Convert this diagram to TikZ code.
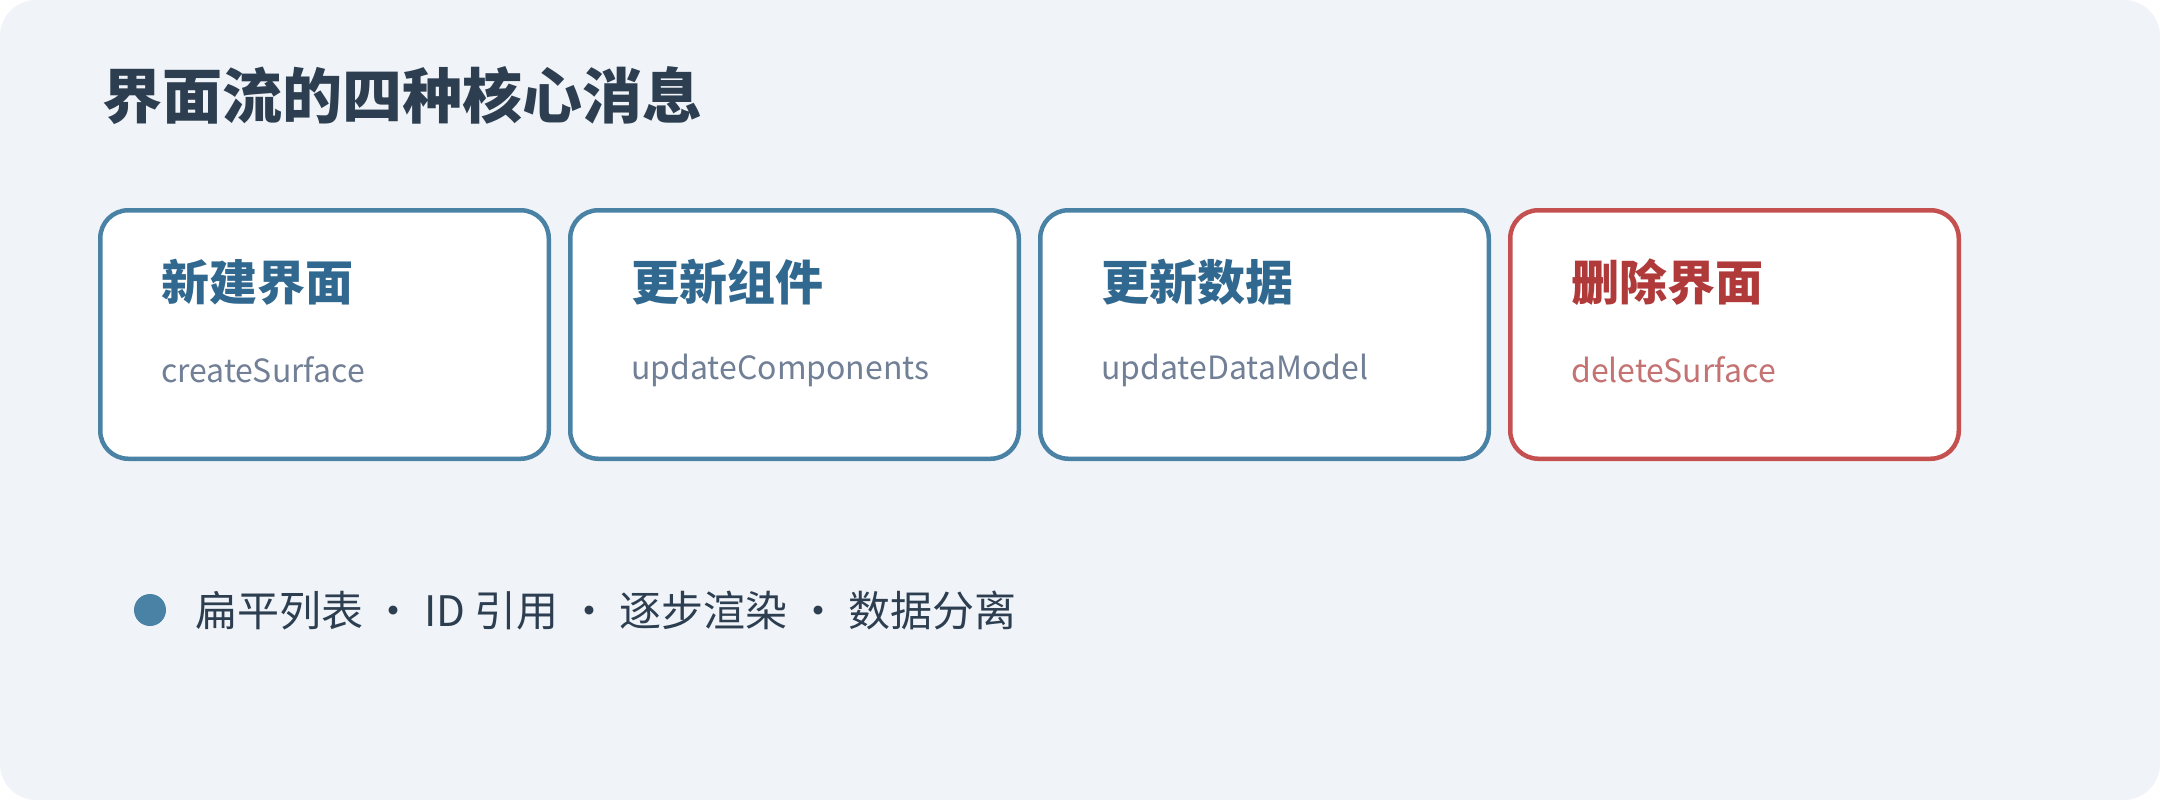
\documentclass[tikz,border=0pt]{standalone}
\usepackage{fontspec}
\setmainfont{Noto Sans CJK SC}
\usetikzlibrary{positioning}

\definecolor{pagebg}{HTML}{F0F4F9}
\definecolor{inkdark}{HTML}{2D3E50}
\definecolor{cardblue}{HTML}{4A82A6}
\definecolor{headblue}{HTML}{30688F}
\definecolor{subgray}{HTML}{718096}
\definecolor{cardred}{HTML}{C55050}
\definecolor{headred}{HTML}{B03A3A}
\definecolor{subred}{HTML}{C47272}

\begin{document}
\begin{tikzpicture}[x=1pt,y=-1pt,
  card/.style={draw=cardblue, fill=white, line width=4.5pt, rounded corners=28pt,
    minimum width=448.5pt, minimum height=248.5pt, inner sep=0pt},
  redcard/.style={card, draw=cardred},
  cardhead/.style={anchor=west, inner sep=0pt, text=headblue,
    font=\fontsize{48}{56}\selectfont\bfseries},
  cardsub/.style={anchor=west, inner sep=0pt, text=subgray,
    font=\fontsize{32}{38}\selectfont},
  bigtitle/.style={anchor=west, inner sep=0pt, text=inkdark,
    font=\fontsize{60}{70}\selectfont\bfseries},
  dot/.style={circle, fill=cardblue, minimum size=32pt, inner sep=0pt},
  dottext/.style={anchor=west, inner sep=0pt, text=inkdark,
    font=\fontsize{42}{50}\selectfont}]

\newcommand\HeadX{63pt}
\newcommand\HeadY{-74pt}
\newcommand\SubY{-162pt}

  %% page
  \useasboundingbox (0,0) rectangle (2160,800);
  \fill[white] (0,0) rectangle (2160,800);
  \fill[pagebg, rounded corners=36pt] (0,0) rectangle (2160,800);

  %% title
  \node[bigtitle] (title) at (102,96) {界面流的四种核心消息};

  %% cards
  \node[card] (create) at (324.5,334.5) {};
  \node[card, right=17pt of create] (update) {};
  \node[card, right=17pt of update] (data) {};
  \node[redcard, right=17pt of data] (delete) {};

  \node[cardhead] (createhead) at ([xshift=\HeadX,yshift=\HeadY]create.north west) {新建界面};
  \node[cardsub] (createsub) at ([xshift=\HeadX,yshift=\SubY]create.north west) {createSurface};

  \node[cardhead] (updatehead) at ([xshift=\HeadX,yshift=\HeadY]update.north west) {更新组件};
  \node[cardsub] (updatesub) at ([xshift=\HeadX,yshift=\SubY]update.north west) {updateComponents};

  \node[cardhead] (datahead) at ([xshift=\HeadX,yshift=\HeadY]data.north west) {更新数据};
  \node[cardsub] (datasub) at ([xshift=\HeadX,yshift=\SubY]data.north west) {updateDataModel};

  \node[cardhead, text=headred] (deletehead) at ([xshift=\HeadX,yshift=\HeadY]delete.north west) {删除界面};
  \node[cardsub, text=subred] (deletesub) at ([xshift=\HeadX,yshift=\SubY]delete.north west) {deleteSurface};

  %% bullet line
  \node[dot] (mark) at (150,610) {};
  \node[dottext, right=29pt of mark] (marktext) {扁平列表 · ID 引用 · 逐步渲染 · 数据分离};

\end{tikzpicture}
\end{document}
